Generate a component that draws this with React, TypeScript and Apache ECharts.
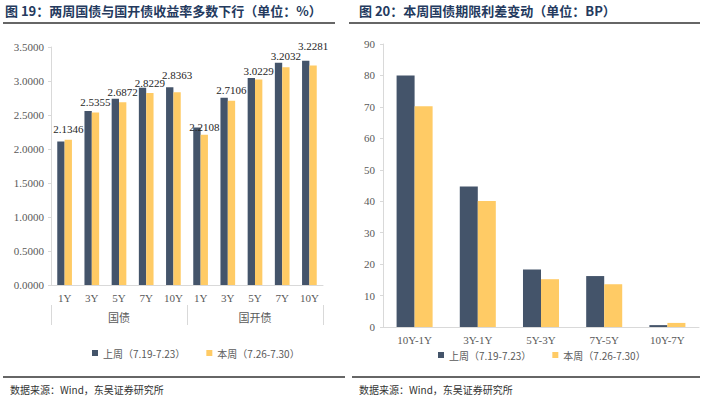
import React, { useEffect, useRef } from "react";
import * as echarts from "echarts";

const tenorCats = ["1Y", "3Y", "5Y", "7Y", "10Y", "1Y", "3Y", "5Y", "7Y", "10Y"];
const groupCats = ["国债", "国开债"];
const lastWeekYield = [2.11, 2.557, 2.74, 2.902, 2.9084, 2.317, 2.754, 3.044, 3.269, 3.299];
const thisWeekYield = [2.1346, 2.5355, 2.6872, 2.8229, 2.8363, 2.2108, 2.7106, 3.0229, 3.2032, 3.2281];
const spreadCats = ["10Y-1Y", "3Y-1Y", "5Y-3Y", "7Y-5Y", "10Y-7Y"];
const lastWeekSpread = [80.0, 44.7, 18.3, 16.2, 0.6];
const thisWeekSpread = [70.2, 40.1, 15.2, 13.6, 1.3];
const seriesNames = ["上周（7.19-7.23）", "本周（7.26-7.30）"];

const DARK = "#44546A";
const YELLOW = "#FFCB65";
const AXIS = "#d9d9d9";
const LABEL = "#595959";
const SERIF = "'Liberation Serif', 'Times New Roman', serif";
const CJK = "'Noto Sans CJK SC', sans-serif";

// extra upward shift of some value labels (layout only)
const labelLift = [0, 0, 0, 0, 7, -3, 0, -2, 1, 9];

export default function App() {
  const ref = useRef<HTMLDivElement>(null);
  useEffect(() => {
    const chart = echarts.init(ref.current!, null, { renderer: "svg" });
    const thisWeekData = thisWeekYield.map((v, i) => ({
      value: v,
      label: { offset: [0, -labelLift[i]] },
    }));
    const option: any = {
      animation: false,
      backgroundColor: "#ffffff",
      grid: [
        { left: 51, top: 47, width: 272, height: 238 },
        { left: 383, top: 44, width: 316, height: 283 },
      ],
      legend: [
        {
          left: 87,
          top: 343,
          itemWidth: 6,
          itemHeight: 6,
          itemGap: 21,
          icon: "rect",
          data: seriesNames,
          textStyle: { fontSize: 10, color: LABEL, fontFamily: CJK },
        },
        {
          left: 433,
          top: 345,
          itemWidth: 6,
          itemHeight: 6,
          itemGap: 21,
          icon: "rect",
          data: seriesNames,
          textStyle: { fontSize: 10, color: LABEL, fontFamily: CJK },
        },
      ],
      xAxis: [
        {
          type: "category",
          gridIndex: 0,
          data: tenorCats,
          axisLine: { lineStyle: { color: AXIS } },
          axisTick: { length: 20, lineStyle: { color: AXIS } },
          axisLabel: { color: LABEL, fontFamily: SERIF, fontSize: 11, margin: 7, interval: 0 },
        },
        {
          type: "category",
          gridIndex: 0,
          position: "bottom",
          offset: 20,
          data: groupCats,
          axisLine: { show: false },
          axisTick: { show: true, length: 20, lineStyle: { color: AXIS } },
          axisLabel: { color: LABEL, fontFamily: CJK, fontSize: 11, margin: 6, interval: 0 },
        },
        {
          type: "category",
          gridIndex: 1,
          data: spreadCats,
          axisLine: { lineStyle: { color: AXIS } },
          axisTick: { length: 4, lineStyle: { color: AXIS } },
          axisLabel: { color: LABEL, fontFamily: SERIF, fontSize: 11, margin: 7, interval: 0 },
        },
      ],
      yAxis: [
        {
          type: "value",
          gridIndex: 0,
          min: 0,
          max: 3.5,
          interval: 0.5,
          axisLine: { show: true, lineStyle: { color: AXIS } },
          axisTick: { show: true, length: 3, lineStyle: { color: AXIS } },
          splitLine: { show: false },
          axisLabel: {
            color: LABEL,
            fontFamily: SERIF,
            fontSize: 11,
            margin: 7,
            formatter: (v: number) => v.toFixed(4),
          },
        },
        {
          type: "value",
          gridIndex: 1,
          min: 0,
          max: 90,
          interval: 10,
          axisLine: { show: true, lineStyle: { color: AXIS } },
          axisTick: { show: true, length: 3, lineStyle: { color: AXIS } },
          splitLine: { show: false },
          axisLabel: { color: LABEL, fontFamily: SERIF, fontSize: 11, margin: 8 },
        },
      ],
      series: [
        {
          name: seriesNames[0],
          type: "bar",
          xAxisIndex: 0,
          yAxisIndex: 0,
          data: lastWeekYield,
          itemStyle: { color: DARK },
          barGap: "0%",
          barCategoryGap: "46%",
        },
        {
          name: seriesNames[1],
          type: "bar",
          xAxisIndex: 0,
          yAxisIndex: 0,
          data: thisWeekData,
          itemStyle: { color: YELLOW },
          barGap: "0%",
          barCategoryGap: "46%",
          z: 3,
          label: {
            show: true,
            position: "top",
            distance: 5,
            color: "#262626",
            fontFamily: SERIF,
            fontSize: 11,
            formatter: (p: any) => Number(p.value).toFixed(4),
          },
        },
        {
          name: seriesNames[0],
          type: "bar",
          xAxisIndex: 2,
          yAxisIndex: 1,
          data: lastWeekSpread,
          itemStyle: { color: DARK },
          barGap: "0%",
          barCategoryGap: "43%",
        },
        {
          name: seriesNames[1],
          type: "bar",
          xAxisIndex: 2,
          yAxisIndex: 1,
          data: thisWeekSpread,
          itemStyle: { color: YELLOW },
          barGap: "0%",
          barCategoryGap: "43%",
        },
      ],
      graphic: [
        {
          type: "text",
          left: 5,
          top: 4,
          style: {
            text: "图 19：两周国债与国开债收益率多数下行（单位：%）",
            fill: "#243a5e",
            font: "bold 13px 'Noto Sans CJK SC', sans-serif",
          },
        },
        {
          type: "text",
          left: 359,
          top: 4,
          style: {
            text: "图 20：本周国债期限利差变动（单位：BP）",
            fill: "#243a5e",
            font: "bold 13px 'Noto Sans CJK SC', sans-serif",
          },
        },
        { type: "line", shape: { x1: 3, y1: 23, x2: 335, y2: 23 }, style: { stroke: "#333", lineWidth: 1.5 } },
        { type: "line", shape: { x1: 349, y1: 23, x2: 700, y2: 23 }, style: { stroke: "#333", lineWidth: 1.5 } },
        { type: "line", shape: { x1: 3, y1: 377, x2: 345, y2: 377 }, style: { stroke: "#333", lineWidth: 1.5 } },
        { type: "line", shape: { x1: 352, y1: 377, x2: 700, y2: 377 }, style: { stroke: "#333", lineWidth: 1.5 } },
        {
          type: "text",
          left: 10,
          top: 384,
          style: { text: "数据来源：Wind，东吴证券研究所", fill: "#333", font: "10px 'Noto Sans CJK SC', sans-serif" },
        },
        {
          type: "text",
          left: 359,
          top: 384,
          style: { text: "数据来源：Wind，东吴证券研究所", fill: "#333", font: "10px 'Noto Sans CJK SC', sans-serif" },
        },
      ],
    };
    chart.setOption(option);
    return () => chart.dispose();
  }, []);
  return (
    <div
      ref={ref}
      style={{ position: "fixed", left: 0, top: 0, width: 705, height: 403, background: "#fff" }}
    />
  );
}
